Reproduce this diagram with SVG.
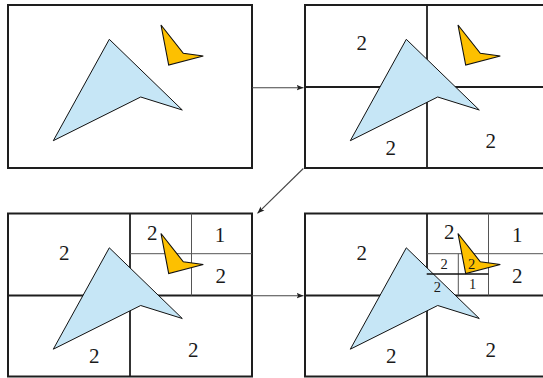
<svg xmlns="http://www.w3.org/2000/svg" xmlns:xlink="http://www.w3.org/1999/xlink" width="543" height="378" viewBox="0 0 543 378">
<style>
.frame{fill:none;stroke:#1e1e1e;stroke-width:2}
.div{stroke:#1e1e1e;stroke-width:1.8;fill:none}
.thin{stroke:#555;stroke-width:1;fill:none}
.dark{stroke:#111;stroke-width:1.3;fill:none}
.blue{fill:#c6e6f6;stroke:#111;stroke-width:1;stroke-linejoin:miter}
.yellow{fill:#fdc000;stroke:#111;stroke-width:1.1}
.big{font-family:"Liberation Serif","DejaVu Serif",serif;font-size:21px;fill:#1a1a1a;text-anchor:middle}
.small{font-family:"Liberation Serif","DejaVu Serif",serif;font-size:14.5px;fill:#1a1a1a;text-anchor:middle}
.conn{stroke:#444;stroke-width:1.1;fill:none}
</style>
<defs>
<marker id="arr" markerUnits="userSpaceOnUse" markerWidth="9" markerHeight="7" refX="7" refY="3" orient="auto">
<path d="M0,0.2 L7,3 L0,5.8 L1.6,3 Z" fill="#222"/>
</marker>
<polygon id="bp" points="109.3,39.3 182.3,110 140.7,97 53.3,140.7" class="blue"/>
<polygon id="yp" points="161,25 183.3,53.3 203.3,56 168.7,65" class="yellow"/>
</defs>
<rect width="543" height="378" fill="#fff"/>

<g id="panel1">
<rect class="frame" x="8" y="5" width="244" height="163"/>
<use xlink:href="#bp"/>
<use xlink:href="#yp"/>
</g>

<g id="panel2" transform="translate(297,0)">
<rect class="frame" x="8" y="5" width="244" height="163"/>
<line class="div" x1="130" y1="5" x2="130" y2="168"/>
<line class="div" x1="8" y1="87" x2="252" y2="87"/>
<use xlink:href="#bp"/>
<use xlink:href="#yp"/>
<text class="big" x="64.7" y="50">2</text>
<text class="big" x="93.7" y="154.5">2</text>
<text class="big" x="193.7" y="147.5">2</text>
</g>

<g id="panel3" transform="translate(0,208.5)">
<rect class="frame" x="8" y="5" width="244" height="163"/>
<line class="div" x1="130" y1="5" x2="130" y2="168"/>
<line class="div" x1="8" y1="87" x2="252" y2="87"/>
<line class="thin" x1="191.5" y1="5" x2="191.5" y2="87"/>
<line class="thin" x1="130" y1="45.2" x2="252" y2="45.2"/>
<use xlink:href="#bp"/>
<use xlink:href="#yp"/>
<text class="big" x="64.3" y="51.7">2</text>
<text class="big" x="152.3" y="31.7">2</text>
<text class="big" x="220" y="33.3">1</text>
<text class="big" x="220.7" y="74">2</text>
<text class="big" x="94.3" y="154.7">2</text>
<text class="big" x="193.3" y="148.3">2</text>
</g>

<g id="panel4" transform="translate(297,208.5)">
<rect class="frame" x="8" y="5" width="244" height="163"/>
<line class="div" x1="130" y1="5" x2="130" y2="168"/>
<line class="div" x1="8" y1="87" x2="252" y2="87"/>
<line class="thin" x1="191.5" y1="5" x2="191.5" y2="87"/>
<line class="thin" x1="130" y1="45.2" x2="252" y2="45.2"/>
<use xlink:href="#bp"/>
<use xlink:href="#yp"/>
<line class="thin" x1="161.3" y1="45.2" x2="161.3" y2="87"/>
<line class="dark" x1="129.7" y1="65.5" x2="191.5" y2="65.5"/>
<text class="big" x="64.7" y="51.7">2</text>
<text class="big" x="152.3" y="30.7">2</text>
<text class="big" x="220.3" y="33.3">1</text>
<text class="big" x="220.3" y="74">2</text>
<text class="big" x="94.3" y="154.7">2</text>
<text class="big" x="193.7" y="148.3">2</text>
<text class="small" x="147" y="60.5">2</text>
<text class="small" x="174.7" y="60.5">2</text>
<text class="small" x="140.3" y="83.2">2</text>
<text class="small" x="175.7" y="80.8">1</text>
</g>

<g id="connectors">
<line class="conn" x1="252" y1="87.7" x2="303.5" y2="87.7" marker-end="url(#arr)"/>
<line class="conn" x1="303.3" y1="168.5" x2="257.5" y2="213.3" marker-end="url(#arr)"/>
<line class="conn" x1="252" y1="295.7" x2="303.5" y2="295.7" marker-end="url(#arr)"/>
</g>
</svg>
